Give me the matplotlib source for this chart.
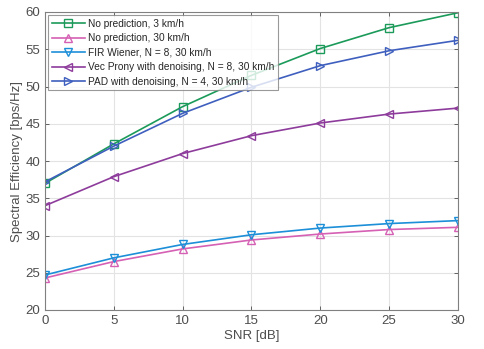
import matplotlib.pyplot as plt

plt.rcParams['font.family'] = ['Liberation Sans', 'DejaVu Sans']

snr = [0, 5, 10, 15, 20, 25, 30]
no_pred_3 = [37.0, 42.3, 47.3, 51.5, 55.1, 57.9, 59.9]
no_pred_30 = [24.3, 26.5, 28.2, 29.4, 30.2, 30.8, 31.1]
fir_wiener = [24.7, 27.0, 28.8, 30.1, 31.0, 31.6, 32.0]
vec_prony = [34.0, 37.9, 41.0, 43.4, 45.1, 46.3, 47.1]
pad = [37.2, 42.0, 46.4, 49.9, 52.8, 54.8, 56.2]

labels = ['No prediction, 3 km/h', 'No prediction, 30 km/h',
          'FIR Wiener, N = 8, 30 km/h', 'Vec Prony with denoising, N = 8, 30 km/h',
          'PAD with denoising, N = 4, 30 km/h']
series = [no_pred_3, no_pred_30, fir_wiener, vec_prony, pad]
colors = ['#1b9a5a', '#d560b4', '#1c8fd8', '#8e3c9c', '#3f5fbf']
markers = ['s', '^', 'v', '<', '>']

fig = plt.figure(figsize=(4.85, 3.49), dpi=100)
ax = fig.add_axes([45/485, 1 - 310/349, 413/485, 298/349])

for y, lab, c, m in zip(series, labels, colors, markers):
    ax.plot(snr, y, color=c, marker=m, markersize=5.5, markerfacecolor='none',
            markeredgewidth=1.0, linewidth=1.2, label=lab)

ax.set_xlim(0, 30)
ax.set_ylim(20, 60)
ax.set_xticks(range(0, 31, 5))
ax.set_yticks(range(20, 61, 5))
ax.grid(True, color='#e3e3e3', linewidth=0.8)
ax.set_axisbelow(True)
for s in ax.spines.values():
    s.set_color('#808080')
    s.set_linewidth(0.8)
ax.tick_params(direction='in', top=True, right=True, colors='#4d4d4d',
               labelsize=9.5, length=3, width=0.6)
ax.set_xlabel('SNR [dB]', fontsize=9.5, color='#4d4d4d', labelpad=2)
ax.set_ylabel('Spectral Efficiency [bps/Hz]', fontsize=9.5, color='#4d4d4d', labelpad=2)

leg = ax.legend(loc='upper left', fontsize=7.3, frameon=True, fancybox=False,
                edgecolor='#808080', borderpad=0.35, labelspacing=0.45,
                handlelength=3.3, handletextpad=0.3, borderaxespad=0.3)
leg.get_frame().set_linewidth(0.8)
for t in leg.get_texts():
    t.set_color('#262626')

fig.savefig('out.png', dpi=100)
